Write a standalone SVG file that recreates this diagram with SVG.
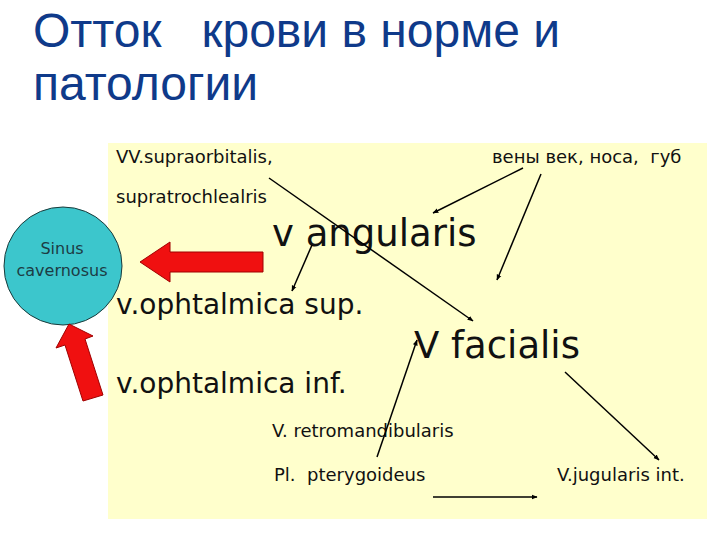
<svg xmlns="http://www.w3.org/2000/svg" width="720" height="540" viewBox="0 0 720 540">
<style>
.title{font-family:"Liberation Sans",Arial,sans-serif;font-size:48px;fill:#0f3a8a}
.sm{font-family:"DejaVu Sans",Verdana,sans-serif;font-size:18px;fill:#111}
.md{font-family:"DejaVu Sans",Verdana,sans-serif;font-size:28px;fill:#111}
.lg{font-family:"DejaVu Sans",Verdana,sans-serif;font-size:37px;fill:#111}
.cn{font-family:"DejaVu Sans",Verdana,sans-serif;font-size:16px;fill:#1d3c44;text-anchor:middle}
.ln{stroke:#000;stroke-width:1.5;fill:none;marker-end:url(#ah)}
.red{fill:#f01010;stroke:#a00000;stroke-width:1}
</style>
<defs>
<marker id="ah" viewBox="0 0 10 10" refX="9" refY="5" markerWidth="6" markerHeight="6" orient="auto" markerUnits="userSpaceOnUse">
<path d="M0,1 L10,5 L0,9 z" fill="#000"/>
</marker>
</defs>
<rect width="720" height="540" fill="#fff"/>
<rect x="108" y="143" width="599" height="376" fill="#ffffcc"/>
<g id="title">
<text class="title" x="33" y="47" xml:space="preserve">Отток   крови в норме и</text>
<text class="title" x="33" y="100">патологии</text>
</g>
<g id="sinus">
<ellipse cx="63" cy="266" rx="59" ry="59" fill="#3cc6cc" stroke="#1a3a3a" stroke-width="1"/>
<text class="cn" x="62" y="254">Sinus</text>
<text class="cn" x="62" y="276">cavernosus</text>
</g>
<g id="supraorbitalis"><text class="sm" x="116" y="163">VV.supraorbitalis,</text></g>
<g id="veny"><text class="sm" x="492" y="163" xml:space="preserve">вены век, носа,  губ</text></g>
<g id="supratrochlealris"><text class="sm" x="116" y="203">supratrochlealris</text></g>
<g id="angularis"><text class="lg" x="272" y="246">v angularis</text></g>
<g id="ophtalmica-sup"><text class="md" x="116" y="314">v.ophtalmica sup.</text></g>
<g id="facialis"><text class="lg" x="414" y="358">V facialis</text></g>
<g id="ophtalmica-inf"><text class="md" x="116" y="393">v.ophtalmica inf.</text></g>
<g id="retromandibularis"><text class="sm" x="272" y="437">V. retromandibularis</text></g>
<g id="pterygoideus"><text class="sm" x="274" y="481" xml:space="preserve">Pl.  pterygoideus</text></g>
<g id="jugularis"><text class="sm" x="557" y="481">V.jugularis int.</text></g>
<g id="connectors">
<line class="ln" x1="269" y1="178" x2="473" y2="321"/>
<line class="ln" x1="523" y1="168" x2="433" y2="213"/>
<line class="ln" x1="541" y1="174" x2="497" y2="280"/>
<line class="ln" x1="312" y1="245" x2="292" y2="291"/>
<line class="ln" x1="377" y1="457" x2="417" y2="340"/>
<line class="ln" x1="565" y1="372" x2="659" y2="460"/>
<line class="ln" x1="433" y1="497" x2="537" y2="497" stroke-width="2"/>
<polygon class="red" points="140,262 170,242 170,252 263,252 263,272 170,272 170,282"/>
<polygon class="red" points="69,324 93,336 85,339 103,395 83,401 65,345 56,348"/>
</g>
</svg>
